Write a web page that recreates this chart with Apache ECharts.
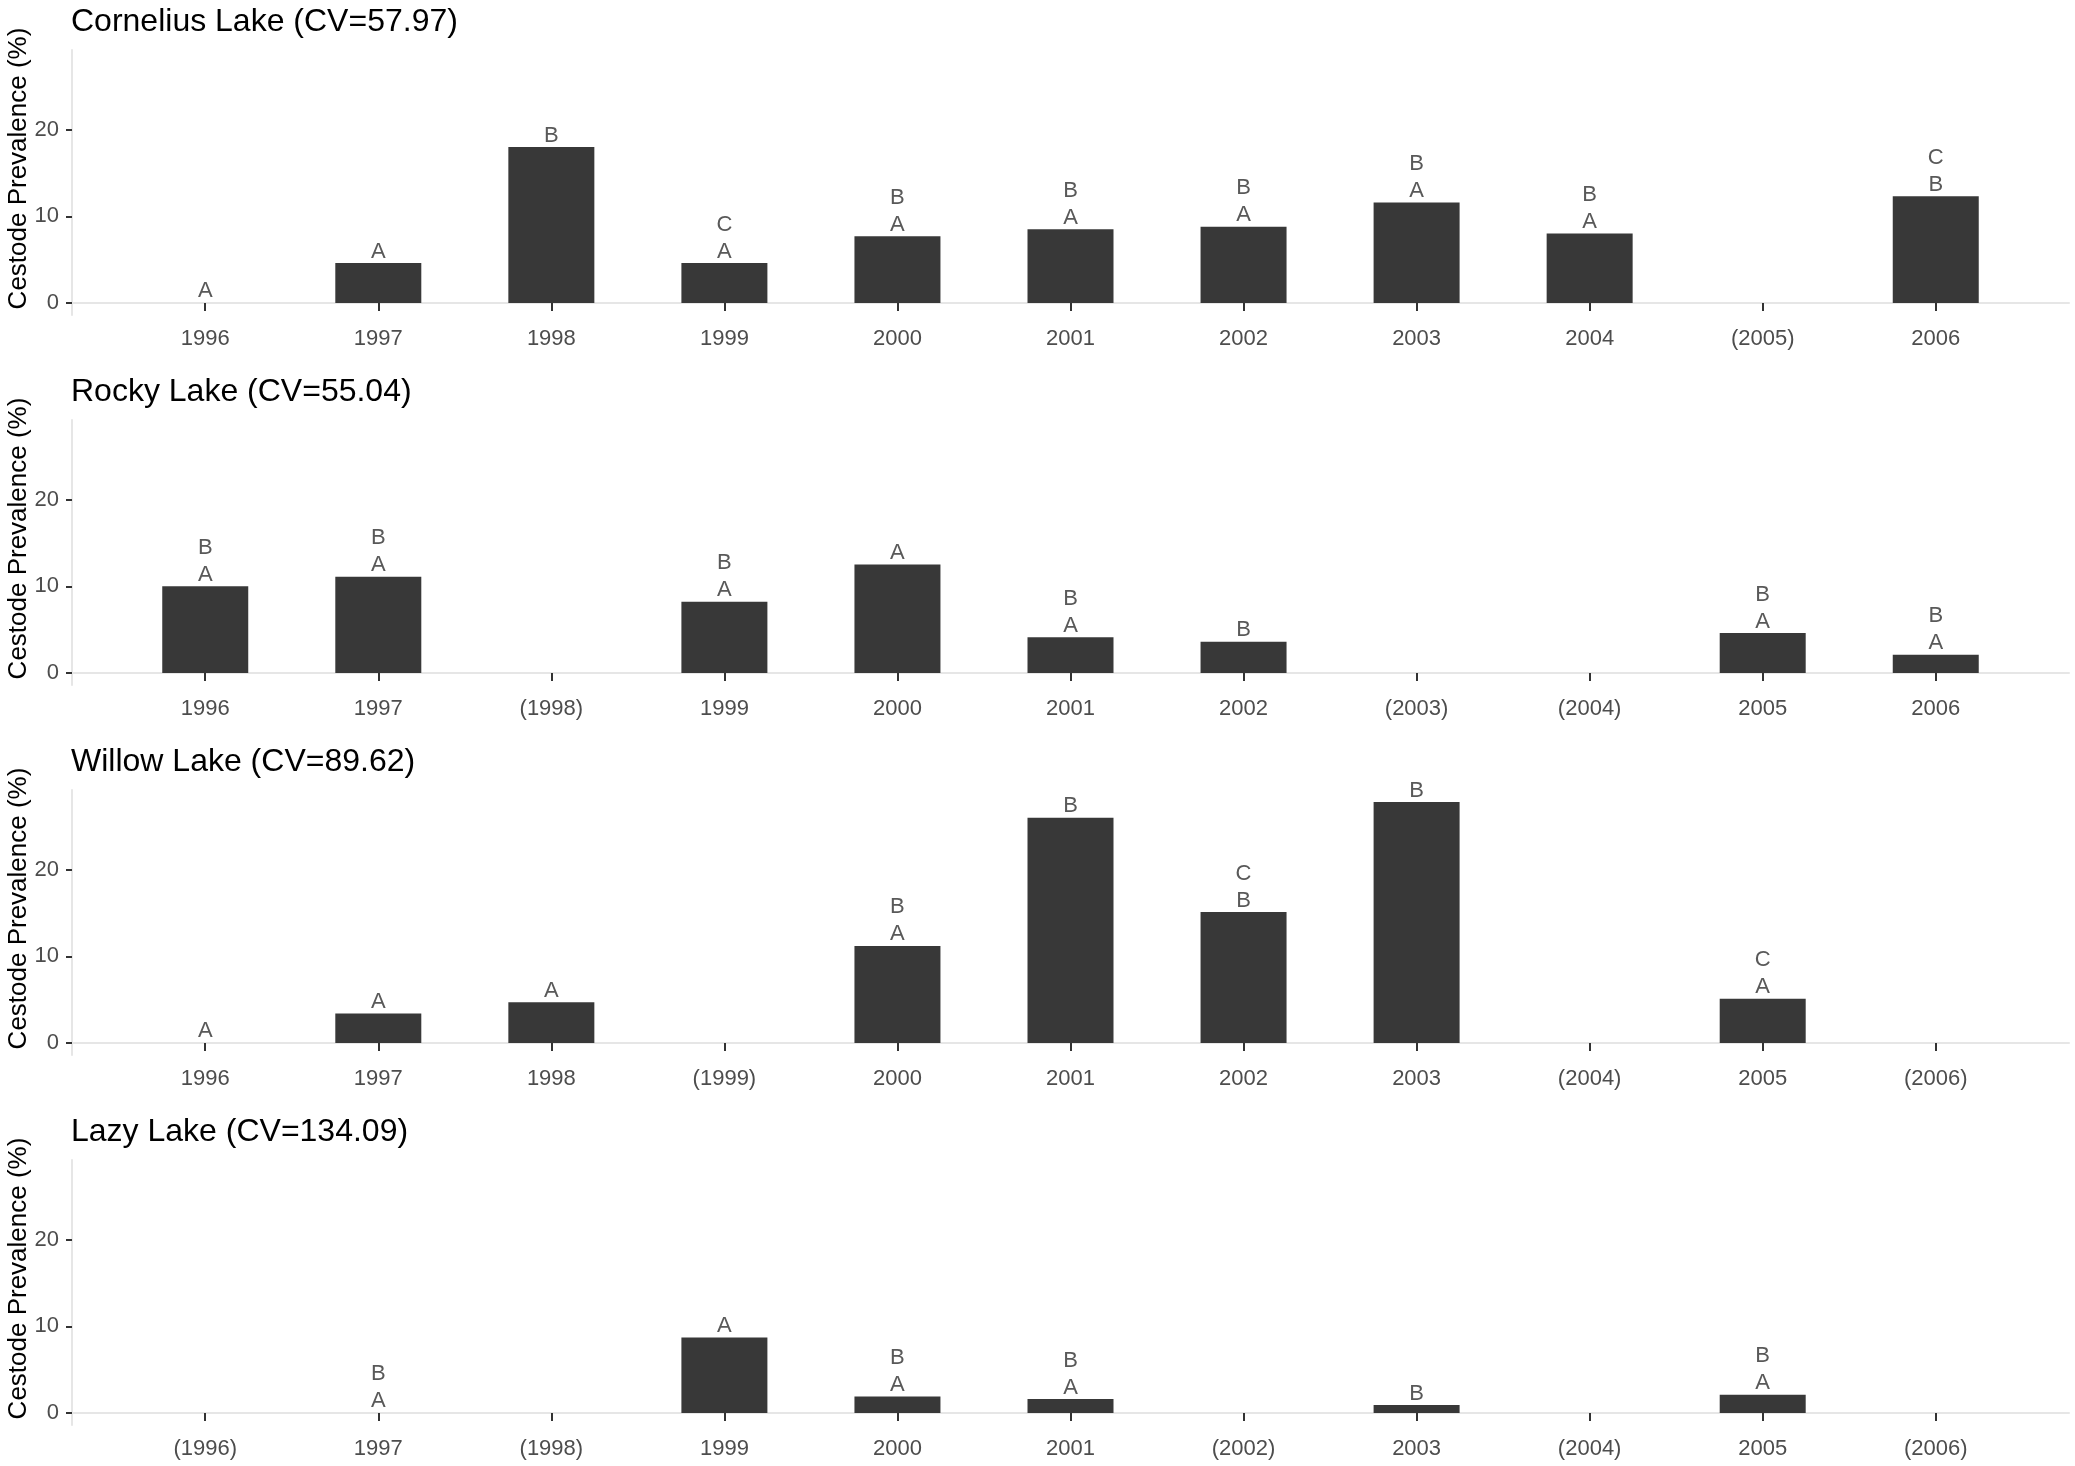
<!DOCTYPE html>
<html>
<head>
<meta charset="utf-8">
<style>
  html, body { margin: 0; padding: 0; background: #ffffff; }
  #chart { width: 2075px; height: 1466px; }
</style>
<script src="https://cdn.jsdelivr.net/npm/echarts@6/dist/echarts.min.js"></script>
</head>
<body>
<div id="chart"></div>
<script>
  // titles of the four panels
  const lakeTitles = [
    'Cornelius Lake (CV=57.97)',
    'Rocky Lake (CV=55.04)',
    'Willow Lake (CV=89.62)',
    'Lazy Lake (CV=134.09)'
  ];

  // year labels, parentheses = year not sampled
  const corneliusYears = ['1996', '1997', '1998', '1999', '2000', '2001', '2002', '2003', '2004', '(2005)', '2006'];
  const rockyYears = ['1996', '1997', '(1998)', '1999', '2000', '2001', '2002', '(2003)', '(2004)', '2005', '2006'];
  const willowYears = ['1996', '1997', '1998', '(1999)', '2000', '2001', '2002', '2003', '(2004)', '2005', '(2006)'];
  const lazyYears = ['(1996)', '1997', '(1998)', '1999', '2000', '2001', '(2002)', '2003', '(2004)', '2005', '(2006)'];

  // cestode prevalence (%), null = no sample
  const corneliusValues = [0, 4.6, 18.0, 4.6, 7.7, 8.5, 8.8, 11.6, 8.0, null, 12.3];
  const rockyValues = [10.0, 11.1, null, 8.2, 12.5, 4.1, 3.6, null, null, 4.6, 2.1];
  const willowValues = [0, 3.4, 4.7, null, 11.2, 26.0, 15.1, 27.8, null, 5.1, null];
  const lazyValues = [null, 0, null, 8.7, 1.9, 1.6, null, 0.9, null, 2.1, null];

  // significance letters (top line first)
  const corneliusLetters = ['A', 'A', 'B', 'C\nA', 'B\nA', 'B\nA', 'B\nA', 'B\nA', 'B\nA', '', 'C\nB'];
  const rockyLetters = ['B\nA', 'B\nA', '', 'B\nA', 'A', 'B\nA', 'B', '', '', 'B\nA', 'B\nA'];
  const willowLetters = ['A', 'A', 'A', '', 'B\nA', 'B', 'C\nB', 'B', '', 'C\nA', ''];
  const lazyLetters = ['', 'B\nA', '', 'A', 'B\nA', 'B\nA', '', 'B', '', 'B\nA', ''];

  const yTicks = [0, 10, 20];

  const panels = [
    { years: corneliusYears, values: corneliusValues, letters: corneliusLetters },
    { years: rockyYears, values: rockyValues, letters: rockyLetters },
    { years: willowYears, values: willowValues, letters: willowLetters },
    { years: lazyYears, values: lazyValues, letters: lazyLetters }
  ];

  const FONT = '"Liberation Sans", Arial, sans-serif';
  const chart = echarts.init(document.getElementById('chart'));

  const option = {
    backgroundColor: '#ffffff',
    animation: false,
    title: [],
    grid: [],
    xAxis: [],
    yAxis: [],
    series: []
  };

  panels.forEach((p, i) => {
    const yearIdx = p.years.map((_, k) => k);
    option.title.push({
      text: lakeTitles[i],
      left: 71,
      top: 6 + 370 * i,
      padding: 0,
      textStyle: { fontFamily: FONT, fontSize: 32, fontWeight: 'normal', color: '#000000' }
    });
    option.grid.push({
      left: 72, width: 1997, top: 50 + 370 * i, height: 265,
      outerBoundsMode: 'none', containLabel: false
    });
    option.xAxis.push({
      type: 'value',
      gridIndex: i,
      min: -0.77,
      max: 10.77,
      splitLine: { show: false },
      axisLine: { show: true, lineStyle: { color: '#e6e6e6', width: 2 } },
      axisTick: { show: true, customValues: yearIdx, length: 8, lineStyle: { color: '#333333', width: 2 } },
      axisLabel: {
        customValues: yearIdx,
        margin: 13,
        fontFamily: FONT,
        fontSize: 22,
        color: '#4d4d4d',
        formatter: v => p.years[Math.round(v)]
      }
    });
    option.yAxis.push({
      type: 'value',
      gridIndex: i,
      min: -1.4,
      max: 29.2,
      name: 'Cestode Prevalence (%)',
      nameLocation: 'middle',
      nameGap: 40,
      nameMoveOverlap: false,
      nameTextStyle: { fontFamily: FONT, fontSize: 26, color: '#000000', padding: [0, 0, 0, 28] },
      splitLine: { show: false },
      axisLine: { show: true, onZero: false, lineStyle: { color: '#e6e6e6', width: 2 } },
      axisTick: { show: true, customValues: yTicks, length: 6, lineStyle: { color: '#333333', width: 2 } },
      axisLabel: { customValues: yTicks, margin: 13, fontFamily: FONT, fontSize: 22, color: '#4d4d4d' }
    });
    const data = [];
    p.values.forEach((v, k) => {
      if (v === null) return;
      data.push({ value: [k, v], label: { formatter: p.letters[k] } });
    });
    option.series.push({
      type: 'bar',
      xAxisIndex: i,
      yAxisIndex: i,
      barWidth: 86,
      itemStyle: { color: '#383838' },
      label: {
        show: true,
        position: 'top',
        distance: -2,
        fontFamily: FONT,
        fontSize: 22,
        lineHeight: 27,
        color: '#595959'
      },
      data: data
    });
  });

  chart.setOption(option);
  window.addEventListener('resize', () => chart.resize());
</script>
</body>
</html>
